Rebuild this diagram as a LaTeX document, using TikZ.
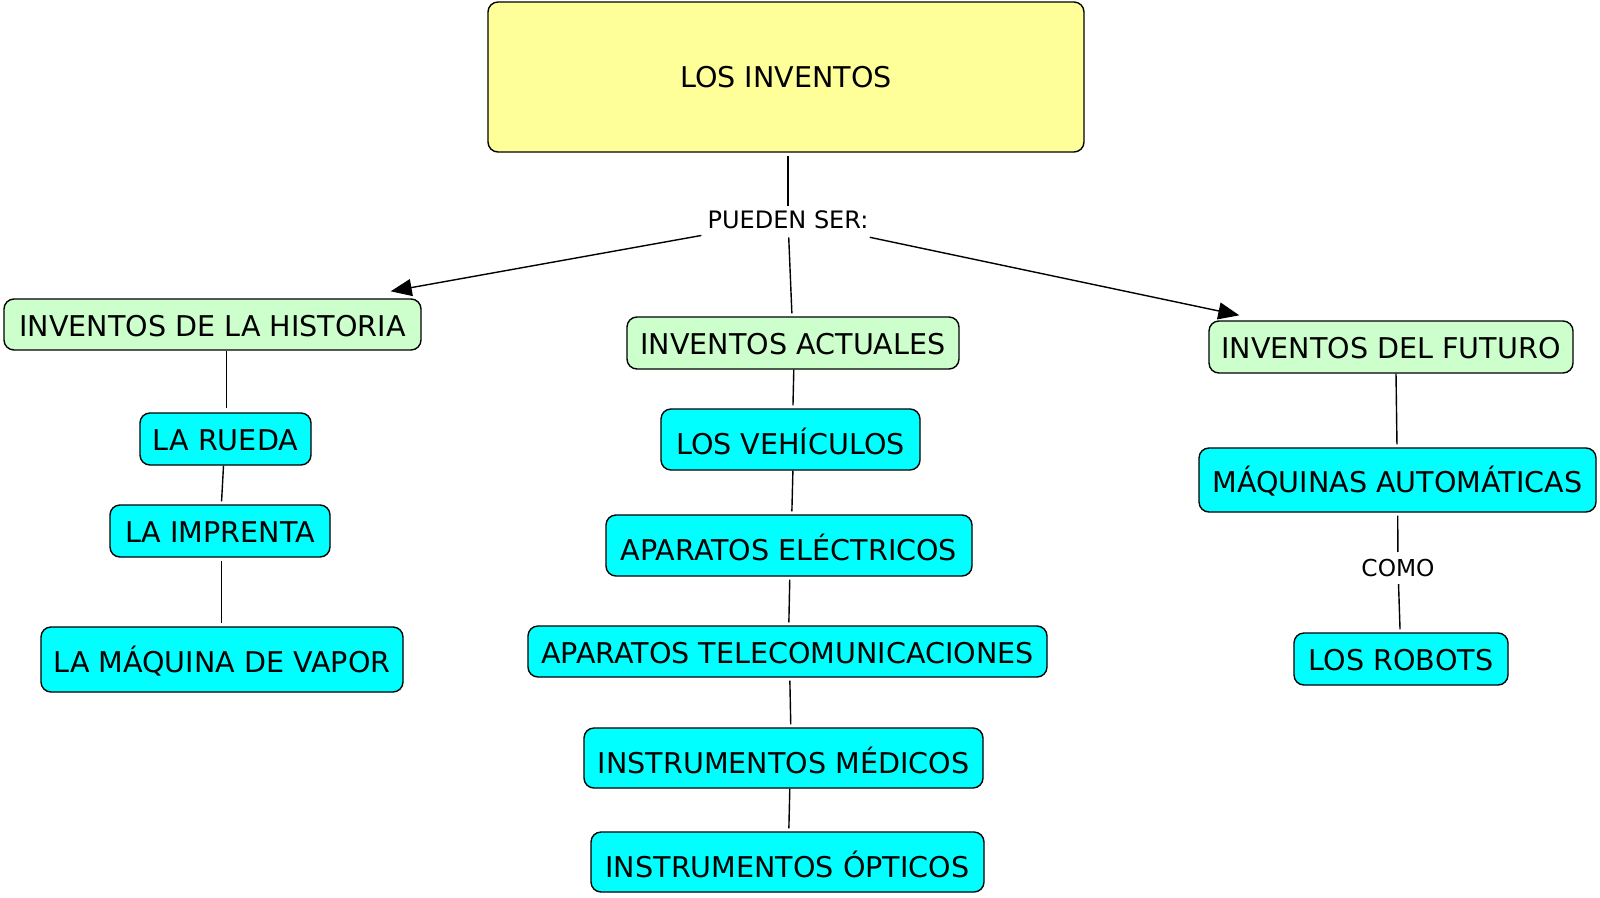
\documentclass[tikz,border=0pt]{standalone}
\usepackage{fontspec}
\setmainfont{DejaVu Sans}
\usetikzlibrary{arrows.meta}
\definecolor{cyell}{HTML}{FFFF99}
\definecolor{cgreen}{HTML}{CCFFCC}
\definecolor{ccyan}{HTML}{00FFFF}
\tikzset{
  concept/.style={draw=black, line width=1.4pt, rounded corners=10pt, inner sep=0pt,
    align=center, text height=23pt, text depth=0pt,
    font=\fontsize{28.6}{32}\selectfont},
  tall/.style={text height=30.5pt},
  topbox/.style={concept, fill=cyell, text height=20.5pt},
  catbox/.style={concept, fill=cgreen},
  itembox/.style={concept, fill=ccyan},
  linklabel/.style={inner xsep=6pt, inner ysep=8pt, font=\fontsize{24}{28}\selectfont},
  conn/.style={line width=1.4pt, draw=black},
  arr/.style={conn, -{Triangle[length=21pt,width=17pt]}}
}
\begin{document}
\begin{tikzpicture}[x=1pt,y=-1pt]
\useasboundingbox[fill=white] (0,0) rectangle (1600,897);

\node[topbox, minimum width=596pt, minimum height=150pt] (top) at (786,77) {LOS INVENTOS};
\node[linklabel] (pueden) at (788,220) {PUEDEN SER:};

\node[catbox, minimum width=417pt, minimum height=51pt] (hist) at (212.5,324.5) {INVENTOS DE LA HISTORIA};
\node[catbox, minimum width=332pt, minimum height=52pt] (act) at (793,343) {INVENTOS ACTUALES};
\node[catbox, minimum width=364pt, minimum height=52pt] (fut) at (1391,347) {INVENTOS DEL FUTURO};

\node[itembox, minimum width=171pt, minimum height=52pt] (rueda) at (225.5,439) {LA RUEDA};
\node[itembox, minimum width=220pt, minimum height=52pt] (impr) at (220,531) {LA IMPRENTA};
\node[itembox, text height=25pt, minimum width=362pt, minimum height=65pt] (vapor) at (222,659.5) {LA MÁQUINA DE VAPOR};

\node[itembox, tall, minimum width=259pt, minimum height=61pt] (veh) at (790.5,439.5) {LOS VEHÍCULOS};
\node[itembox, tall, minimum width=366pt, minimum height=61pt] (elec) at (789,545.5) {APARATOS ELÉCTRICOS};
\node[itembox, minimum width=519pt, minimum height=51pt] (tele) at (787.5,651.5) {APARATOS TELECOMUNICACIONES};
\node[itembox, tall, minimum width=399pt, minimum height=60pt] (med) at (783.5,758) {INSTRUMENTOS MÉDICOS};
\node[itembox, tall, minimum width=393pt, minimum height=60pt] (opt) at (787.5,862) {INSTRUMENTOS ÓPTICOS};

\node[itembox, text height=25pt, minimum width=397pt, minimum height=64pt] (maq) at (1397.5,480) {MÁQUINAS AUTOMÁTICAS};
\node[linklabel, inner ysep=7pt, font=\fontsize{23.3}{27}\selectfont] (como) at (1398,568) {COMO};
\node[itembox, minimum width=214pt, minimum height=52pt] (robots) at (1401,659) {LOS ROBOTS};

\draw[conn, shorten <=3pt, shorten >=-3pt] ([xshift=2pt]top.south) -- (pueden);
\draw[arr] (pueden) -- ([xshift=-31pt,yshift=7pt]hist.north east);
\draw[conn, shorten >=3pt] (pueden) -- ([xshift=-1pt]act.north);
\draw[arr] (pueden) -- ([xshift=31pt,yshift=5pt]fut.north west);

\draw[conn, shorten >=4pt] ([xshift=14pt]hist.south) -- ([xshift=1pt]rueda.north);
\draw[conn, shorten >=3pt] ([xshift=-2pt]rueda.south) -- ([xshift=1.4pt]impr.north);
\draw[conn, shorten >=3pt, shorten <=3pt] ([xshift=1.4pt]impr.south) -- ([xshift=-0.6pt]vapor.north);

\draw[conn, shorten >=3pt] ([xshift=0.8pt]act.south) -- ([xshift=2.4pt]veh.north);
\draw[conn, shorten >=3pt] ([xshift=2.4pt]veh.south) -- ([xshift=2.8pt]elec.north);
\draw[conn, shorten >=3pt, shorten <=3pt] ([xshift=0.8pt]elec.south) -- ([xshift=1.3pt]tele.north);
\draw[conn, shorten >=3pt, shorten <=3pt] ([xshift=2.3pt]tele.south) -- ([xshift=7.3pt]med.north);
\draw[conn, shorten >=3pt] ([xshift=6.3pt]med.south) -- ([xshift=1.3pt]opt.north);

\draw[conn, shorten >=3pt] ([xshift=5pt]fut.south) -- ([xshift=-0.5pt]maq.north);
\draw[conn, shorten <=3pt] (maq) -- (como);
\draw[conn, shorten >=3pt] (como) -- (robots);
\end{tikzpicture}
\end{document}
